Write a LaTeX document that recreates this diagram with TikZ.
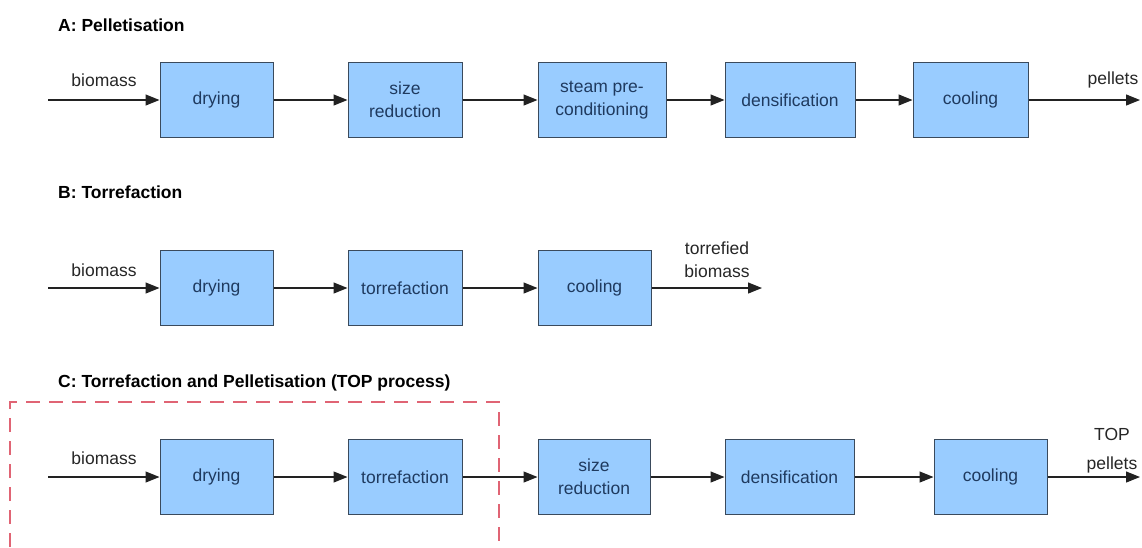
\documentclass[tikz,border=0pt]{standalone}
\usepackage{fontspec}
\setmainfont{Liberation Sans}
\usetikzlibrary{arrows.meta}
\definecolor{boxfill}{HTML}{99CCFF}
\definecolor{boxline}{HTML}{3A4A5C}
\definecolor{boxtext}{HTML}{1F3A5F}
\definecolor{flowline}{HTML}{222222}
\definecolor{toppink}{HTML}{E06474}
\begin{document}
\begin{tikzpicture}[x=1pt, y=-1pt,
    font=\fontsize{17.5}{23}\selectfont,
    unit/.style={draw=boxline, fill=boxfill, text=boxtext, line width=1pt,
        minimum height=75pt, inner sep=0pt, align=center},
    flow/.style={draw=flowline, line width=1.2pt, -{Triangle[length=14pt,width=11pt]}},
    lbl/.style={text=black!85, align=center, inner sep=0pt},
    heading/.style={font=\fontsize{17.5}{20}\selectfont\bfseries, anchor=west, inner sep=0pt}]
        \useasboundingbox (0,0) rectangle (1142,547);
        
        % A: pelletisation
        \node[heading] (headA) at (58,25) {A: Pelletisation};
        \coordinate (inA) at (48,100);
        \coordinate (outA) at (1140,100);
        \node[unit, minimum width=113pt] (dryA) at (216.5,100) {drying};
        \node[unit, minimum width=114pt] (sizeA) at (405,100) {size\\reduction};
        \node[unit, minimum width=128pt] (steamA) at (602,100) {steam pre-\\conditioning};
        \node[unit, minimum width=130pt] (densA) at (790,100) {densification};
        \node[unit, minimum width=115pt] (coolA) at (970.5,100) {cooling};
        \node[lbl] (bioA) at (104,80) {biomass};
        \node[lbl] (pelA) at (1113,80) {pellets};
        \draw[flow] (inA) -- (dryA);
        \draw[flow] (dryA) -- (sizeA);
        \draw[flow] (sizeA) -- (steamA);
        \draw[flow] (steamA) -- (densA);
        \draw[flow] (densA) -- (coolA);
        \draw[flow] (coolA) -- (outA);
        
        % B: torrefaction
        \node[heading] (headB) at (58,192) {B: Torrefaction};
        \coordinate (inB) at (48,288);
        \coordinate (outB) at (762,288);
        \node[unit, minimum width=113pt] (dryB) at (216.5,288) {drying};
        \node[unit, minimum width=114pt] (torrB) at (405,288) {torrefaction};
        \node[unit, minimum width=113pt] (coolB) at (594.5,288) {cooling};
        \node[lbl] (bioB) at (104,270) {biomass};
        \node[lbl] (torrbioB) at (717,260) {torrefied\\biomass};
        \draw[flow] (inB) -- (dryB);
        \draw[flow] (dryB) -- (torrB);
        \draw[flow] (torrB) -- (coolB);
        \draw[flow] (coolB) -- (outB);
        
        % C: TOP process
        \node[heading] (headC) at (58,383) {C: Torrefaction and Pelletisation (TOP process)};
        \draw[toppink, line width=1.2pt, dash pattern=on 14pt off 9pt]
            (10,547) -- (10,402) -- (499,402) -- (499,547);
        \coordinate (inC) at (48,477);
        \coordinate (outC) at (1140,477);
        \node[unit, minimum width=113pt] (dryC) at (216.5,477) {drying};
        \node[unit, minimum width=114pt] (torrC) at (405,477) {torrefaction};
        \node[unit, minimum width=112pt] (sizeC) at (594,477) {size\\reduction};
        \node[unit, minimum width=129pt] (densC) at (789.5,477) {densification};
        \node[unit, minimum width=113pt] (coolC) at (990.5,477) {cooling};
        \node[lbl] (bioC) at (104,458) {biomass};
        \node[lbl, font=\fontsize{17.5}{29}\selectfont] (topC) at (1112,451) {TOP\\pellets};
        \draw[flow] (inC) -- (dryC);
        \draw[flow] (dryC) -- (torrC);
        \draw[flow] (torrC) -- (sizeC);
        \draw[flow] (sizeC) -- (densC);
        \draw[flow] (densC) -- (coolC);
        \draw[flow] (coolC) -- (outC);
\end{tikzpicture}
\end{document}
